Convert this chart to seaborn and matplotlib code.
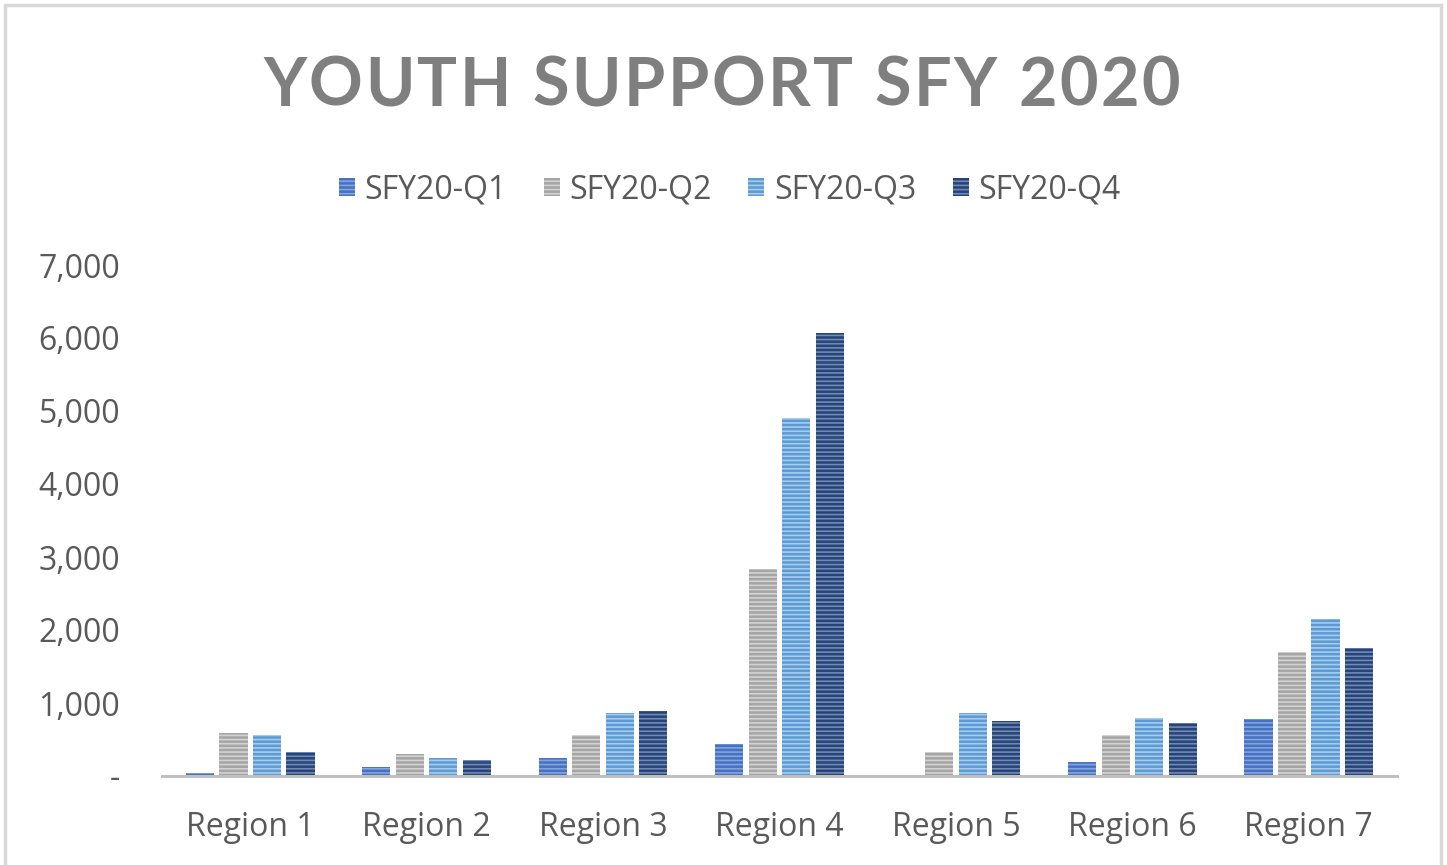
import matplotlib
matplotlib.use("Agg")
import matplotlib.pyplot as plt
import seaborn as sns
import pandas as pd
from matplotlib.patches import Patch, Rectangle
from matplotlib.ticker import FuncFormatter

regions = ["Region 1", "Region 2", "Region 3", "Region 4", "Region 5", "Region 6", "Region 7"]
quarters = ["SFY20-Q1", "SFY20-Q2", "SFY20-Q3", "SFY20-Q4"]
q1 = [40, 120, 250, 440, 0, 190, 780]
q2 = [590, 300, 560, 2830, 330, 560, 1700]
q3 = [560, 250, 860, 4900, 860, 800, 2150]
q4 = [330, 220, 890, 6070, 750, 720, 1750]
title = "YOUTH SUPPORT SFY 2020"

face_colors = ["#4472C4", "#A5A5A5", "#5B9BD5", "#264478"]
stripe_colors = ["#86A3DA", "#D2D2D2", "#A9CBEA", "#7189B5"]

rows = []
for q, vals in zip(quarters, [q1, q2, q3, q4]):
    for r, v in zip(regions, vals):
        rows.append({"Region": r, "Quarter": q, "Value": v})
df = pd.DataFrame(rows)

sns.set_theme(style="white")
plt.rcParams["font.family"] = ["Open Sans", "DejaVu Sans"]
plt.rcParams["hatch.linewidth"] = 1.2

W, H = 1447, 865
fig = plt.figure(figsize=(W / 100, H / 100), dpi=100)
ax = fig.add_axes([162 / W, 1 - 776 / H, (1397 - 162) / W, (776 - 265) / H])

sns.barplot(data=df, x="Region", y="Value", hue="Quarter", hue_order=quarters,
            order=regions, palette=face_colors, width=0.76, gap=0.16,
            ax=ax, legend=False, saturation=1)

for cont, fc, sc in zip(ax.containers, face_colors, stripe_colors):
    for bar in cont:
        bar.set_facecolor(fc)
        bar.set_edgecolor(sc)
        bar.set_linewidth(0)
        bar.set_hatch("----")

ax.set_ylim(0, 7000)
ax.set_xlim(-0.5, 6.5)
ax.set_yticks(range(0, 7001, 1000))
ax.yaxis.set_major_formatter(FuncFormatter(lambda v, p: "-" if v == 0 else f"{int(v):,}"))
ax.set_xlabel("")
ax.set_ylabel("")
for s in ["top", "right", "left"]:
    ax.spines[s].set_visible(False)
ax.spines["bottom"].set_color("#BFBFBF")
ax.spines["bottom"].set_linewidth(2.2)
ax.tick_params(axis="y", length=0, pad=30, labelsize=23, labelcolor="#595959")
ax.tick_params(axis="x", length=0, pad=25, labelsize=23, labelcolor="#595959")
ax.grid(False)

# Title with letter spacing (tracking), drawn character by character
renderer = fig.canvas.get_renderer()
tprops = dict(fontsize=48, fontweight="bold", color="#7F7F7F", family=["Lato", "DejaVu Sans"])
target_left, target_right = 263, 1180
ref_bar = fig.text(0, 0, "|", **tprops)
bar_w = ref_bar.get_window_extent(renderer).width
ref_bar.remove()
offsets = []
for i in range(len(title)):
    t = fig.text(0, 0, title[:i] + "|", **tprops)
    offsets.append(t.get_window_extent(renderer).width - bar_w if i > 0 else 0.0)
    t.remove()
full = fig.text(0, 0, title, **tprops)
full_w = full.get_window_extent(renderer).width
full.remove()
n = len(title)
track = (target_right - target_left - full_w) / (n - 1)
title_y = 1 - 87 / H
for i, ch in enumerate(title):
    x = target_left + offsets[i] + track * i
    fig.text(x / W, title_y, ch, ha="left", va="center", **tprops)

handles = [Patch(facecolor=fc, edgecolor=sc, hatch="----", linewidth=0)
           for fc, sc in zip(face_colors, stripe_colors)]
fig.legend(handles, quarters, loc="center", bbox_to_anchor=(730 / W, 1 - 190 / H),
           ncol=4, frameon=False, fontsize=23, labelcolor="#595959",
           handlelength=0.5, handleheight=0.5, handletextpad=0.3, columnspacing=1.15)

fig.patches.append(Rectangle((5 / W, -0.05), (1441 - 5) / W, 1.05 - 5 / H,
                             transform=fig.transFigure, fill=False, edgecolor="#D9D9D9",
                             linewidth=2.5))

fig.savefig("out.png", dpi=100)
